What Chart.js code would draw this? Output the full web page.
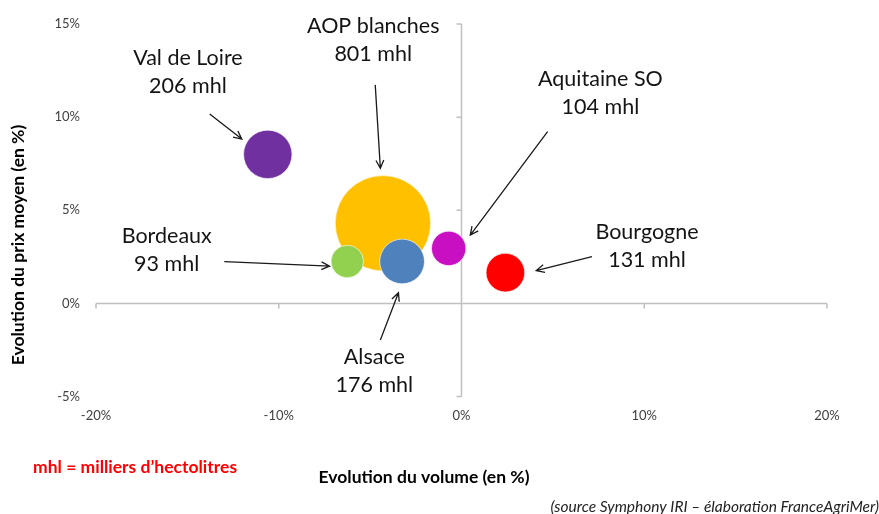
<!DOCTYPE html>
<html>
<head>
<meta charset="utf-8">
<script src="https://cdn.jsdelivr.net/npm/chart.js@4/dist/chart.umd.min.js"></script>
<style>
html,body{margin:0;padding:0;background:#fff;}
#c{display:block;}
</style>
</head>
<body>
<canvas id="c" width="879" height="514"></canvas>
<script>
// ---- DATA ----
const categories = ['AOP blanches', 'Val de Loire', 'Bordeaux', 'Alsace', 'Aquitaine SO', 'Bourgogne'];
const volumeEvolution = [-4.3, -10.6, -6.25, -3.25, -0.7, 2.4];   // x, %
const priceEvolution  = [4.3, 8.0, 2.25, 2.25, 2.95, 1.65];       // y, %
const volumesMhl      = [801, 206, 93, 176, 104, 131];            // bubble size
const xTickValues = [-20, -10, 0, 10, 20];
const xTickLabels = ['-20%', '-10%', '0%', '10%', '20%'];
const yTickValues = [-5, 0, 5, 10, 15];
const yTickLabels = ['-5%', '0%', '5%', '10%', '15%'];

// ---- STYLE / LAYOUT ----
const colors = ['#FFC000', '#7030A0', '#92D050', '#4F81BD', '#C80FC2', '#FF0000'];
const radiusPerSqrtMhl = 1.685;
const FONT = 'Lato, "Open Sans", sans-serif';
// label anchor (centre, midway between the two baselines) and arrow (from -> to), in data units
const annotations = {
  'AOP blanches': {label: [-4.83, 13.79], arrow: [-4.72, 11.73, -4.44, 7.25]},
  'Val de Loire': {label: [-14.97, 12.04], arrow: [-13.78, 10.17, -12.02, 8.82]},
  'Bordeaux':     {label: [-16.13, 2.51], arrow: [-12.98, 2.24, -7.22, 2.0]},
  'Alsace':       {label: [-4.77, -3.98], arrow: [-4.44, -1.97, -3.45, 0.57]},
  'Aquitaine SO': {label: [7.60, 10.92], arrow: [4.71, 9.22, 0.48, 3.67]},
  'Bourgogne':    {label: [10.15, 2.69], arrow: [7.14, 2.51, 4.09, 1.76]}
};

const points = categories.map((c, i) => ({
  x: volumeEvolution[i],
  y: priceEvolution[i],
  r: Math.sqrt(volumesMhl[i]) * radiusPerSqrtMhl
}));

const crossAxes = {
  id: 'crossAxes',
  beforeDatasetsDraw(chart) {
    const {ctx, chartArea: a, scales: {x, y}} = chart;
    const x0 = x.getPixelForValue(0), y0 = y.getPixelForValue(0);
    ctx.save();
    ctx.strokeStyle = '#C0C0C0';
    ctx.lineWidth = 1.5;
    ctx.beginPath();
    ctx.moveTo(a.left, y0); ctx.lineTo(a.right, y0);
    ctx.moveTo(x0, a.top); ctx.lineTo(x0, a.bottom);
    xTickValues.forEach(v => {
      const px = x.getPixelForValue(v);
      ctx.moveTo(px, y0); ctx.lineTo(px, y0 + 5);
    });
    yTickValues.forEach(v => {
      const py = y.getPixelForValue(v);
      ctx.moveTo(x0 - 5, py); ctx.lineTo(x0, py);
    });
    ctx.stroke();
    ctx.restore();
  }
};

const labelsPlugin = {
  id: 'labelsPlugin',
  afterDatasetsDraw(chart) {
    const {ctx, scales: {x, y}} = chart;
    ctx.save();
    categories.forEach((c, i) => {
      const an = annotations[c];
      const x1 = x.getPixelForValue(an.arrow[0]), y1 = y.getPixelForValue(an.arrow[1]);
      const x2 = x.getPixelForValue(an.arrow[2]), y2 = y.getPixelForValue(an.arrow[3]);
      const ang = Math.atan2(y2 - y1, x2 - x1);
      const h = 9, spread = Math.PI / 7;
      ctx.strokeStyle = '#1a1a1a';
      ctx.lineWidth = 1.3;
      ctx.beginPath();
      ctx.moveTo(x1, y1); ctx.lineTo(x2, y2);
      ctx.moveTo(x2 - h * Math.cos(ang - spread), y2 - h * Math.sin(ang - spread));
      ctx.lineTo(x2, y2);
      ctx.lineTo(x2 - h * Math.cos(ang + spread), y2 - h * Math.sin(ang + spread));
      ctx.stroke();
      const lx = x.getPixelForValue(an.label[0]), ly = y.getPixelForValue(an.label[1]);
      ctx.fillStyle = '#141414';
      ctx.font = '21.5px ' + FONT;
      ctx.textAlign = 'center';
      ctx.textBaseline = 'alphabetic';
      ctx.fillText(c, lx, ly - 14);
      ctx.fillText(volumesMhl[i] + ' mhl', lx, ly + 14);
    });
    ctx.restore();
  },
  afterDraw(chart) {
    const {ctx} = chart;
    ctx.save();
    ctx.fillStyle = '#000';
    ctx.font = 'bold 17.5px ' + FONT;
    ctx.textAlign = 'center';
    ctx.textBaseline = 'middle';
    ctx.fillText('Evolution du volume (en %)', 424, 477);
    ctx.save();
    ctx.translate(18, 245);
    ctx.rotate(-Math.PI / 2);
    ctx.fillText('Evolution du prix moyen (en %)', 0, 0);
    ctx.restore();
    ctx.fillStyle = '#FF0000';
    ctx.textAlign = 'left';
    ctx.fillText('mhl = milliers d\u2019hectolitres', 33, 467);
    ctx.fillStyle = '#222';
    ctx.font = 'italic 15.5px ' + FONT;
    ctx.textAlign = 'right';
    ctx.fillText('(source Symphony IRI \u2013 \u00e9laboration FranceAgriMer)', 879, 507);
    ctx.restore();
  }
};

new Chart(document.getElementById('c'), {
  type: 'bubble',
  data: {
    datasets: [{
      data: points,
      backgroundColor: colors,
      borderColor: 'rgba(255,255,255,0.6)',
      borderWidth: 1,
      hoverRadius: 0
    }]
  },
  options: {
    responsive: false,
    animation: false,
    events: [],
    layout: {autoPadding: false, padding: {top: 24, right: 52, left: 0, bottom: 0}},
    plugins: {legend: {display: false}, tooltip: {enabled: false}},
    scales: {
      x: {
        type: 'linear', min: -20, max: 20,
        afterBuildTicks: s => { s.ticks = xTickValues.map(v => ({value: v})); },
        afterFit: s => { s.height = 117.5; },
        ticks: {
          callback: (v) => xTickLabels[xTickValues.indexOf(v)],
          font: {family: FONT, size: 13}, color: '#404040', padding: 12, maxRotation: 0
        },
        grid: {display: false, drawTicks: false},
        border: {display: false}
      },
      y: {
        type: 'linear', min: -5, max: 15,
        afterBuildTicks: s => { s.ticks = yTickValues.map(v => ({value: v})); },
        afterFit: s => { s.width = 96; },
        ticks: {
          callback: (v) => yTickLabels[yTickValues.indexOf(v)],
          font: {family: FONT, size: 13}, color: '#404040', padding: 16
        },
        grid: {display: false, drawTicks: false},
        border: {display: false}
      }
    }
  },
  plugins: [crossAxes, labelsPlugin]
});
</script>
</body>
</html>
